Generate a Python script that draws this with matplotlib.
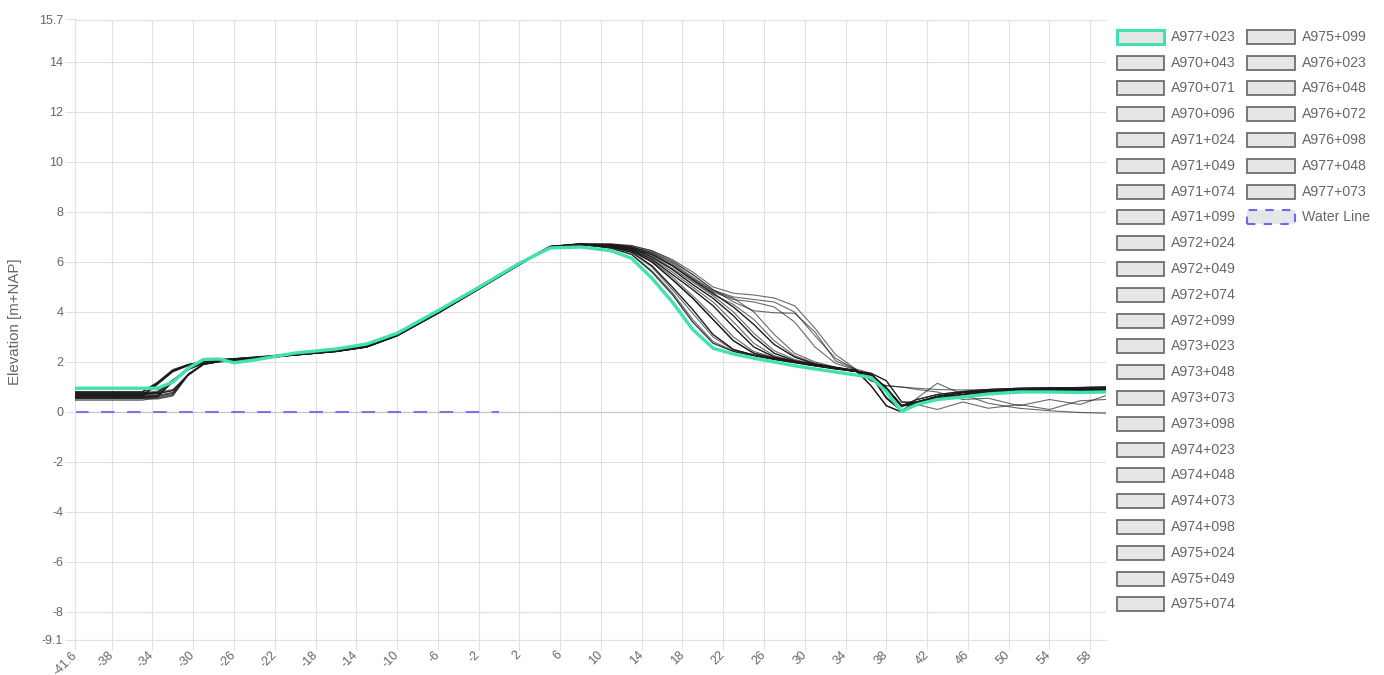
import matplotlib
matplotlib.use("Agg")
import matplotlib.pyplot as plt
from matplotlib.patches import Rectangle

# Cross-shore distance [m] shared by all profile surveys
STATION = [-41.6, -35, -33.5, -32, -30.5, -29, -27.5, -26, -24,
           -20, -16, -13, -10, -6, -2, 2, 5, 8,
           11, 13, 15, 17, 19, 21, 23, 25, 27, 29, 31, 33, 35,
           36.5, 38, 39.5,
           41, 43, 45.5, 48, 51, 54, 57, 59.5]

# Elevation [m+NAP] per transect
A977_023 = [0.95, 0.95, 0.95, 1.2, 1.75, 2.1, 2.12, 1.97, 2.08,
            2.36, 2.52, 2.72, 3.15, 4.05, 4.98, 5.95, 6.56, 6.6,
            6.45, 6.15, 5.35, 4.4, 3.3, 2.55, 2.32, 2.15, 2.0, 1.85, 1.72, 1.6, 1.48,
            1.38, 0.82, 0.02,
            0.3, 0.5, 0.6, 0.72, 0.8, 0.8, 0.78, 0.8]
A970_043 = [0.55, 0.55, 0.55, 0.67, 1.5, 1.92, 2.02, 2.05, 2.12,
            2.3, 2.45, 2.62, 3.08, 3.98, 4.95, 5.92, 6.6, 6.7,
            6.55, 6.3, 5.6, 4.7, 3.6, 2.75, 2.42, 2.25, 2.1, 1.97, 1.84, 1.72, 1.62,
            1.5, 0.95, 0.25,
            0.35, 0.55, 0.7, 0.8, 0.85, 0.88, 0.9, 0.9]
A970_071 = [0.6, 0.6, 0.68, 1.25, 1.72, 1.97, 2.05, 2.08, 2.15,
            2.33, 2.48, 2.66, 3.12, 4.02, 5.0, 5.95, 6.58, 6.68,
            6.6, 6.4, 5.85, 5.0, 4.1, 3.1, 2.5, 2.28, 2.12, 2.0, 1.86, 1.74, 1.63,
            1.45, 0.55, 0.05,
            0.4, 0.62, 0.78, 0.85, 0.9, 0.92, 0.93, 0.95]
A970_096 = [0.65, 0.65, 1.15, 1.65, 1.88, 2.0, 2.08, 2.12, 2.18,
            2.28, 2.42, 2.6, 3.05, 3.95, 4.92, 5.9, 6.62, 6.72,
            6.62, 6.45, 6.0, 5.3, 4.55, 3.7, 2.85, 2.35, 2.15, 2.0, 1.87, 1.75, 1.62,
            1.5, 0.95, 0.25,
            0.3, 0.5, 0.62, 0.72, 0.78, 0.82, 0.84, 0.85]
A971_024 = [0.7, 0.7, 0.78, 1.22, 1.7, 1.96, 2.04, 2.09, 2.14,
            2.31, 2.46, 2.63, 3.09, 3.99, 4.96, 5.93, 6.61, 6.71,
            6.65, 6.5, 6.1, 5.5, 4.9, 4.25, 3.4, 2.6, 2.2, 2.02, 1.88, 1.76, 1.64,
            1.52, 0.9, 0.2,
            0.38, 0.56, 0.72, 0.8, 0.86, 0.88, 0.89, 0.9]
A971_049 = [0.75, 0.75, 0.75, 0.86, 1.48, 1.9, 2.0, 2.04, 2.1,
            2.27, 2.41, 2.59, 3.04, 3.94, 4.9, 5.88, 6.6, 6.7,
            6.65, 6.55, 6.2, 5.7, 5.1, 4.55, 3.85, 3.0, 2.35, 2.05, 1.9, 1.77, 1.65,
            1.05, 0.25, 0.0,
            0.3, 0.1, 0.4, 0.15, 0.3, 0.1, 0.45, 0.5]
A971_074 = [0.8, 0.8, 1.18, 1.68, 1.9, 2.02, 2.1, 2.14, 2.2,
            2.34, 2.49, 2.67, 3.13, 4.03, 5.01, 5.96, 6.63, 6.74,
            6.72, 6.65, 6.45, 6.1, 5.6, 5.0, 4.75, 4.68, 4.56, 4.25, 3.35, 2.3, 1.72,
            1.55, 1.25, 0.4,
            0.42, 0.64, 0.79, 0.86, 0.9, 0.93, 0.94, 0.96]
A971_099 = [0.58, 0.58, 0.66, 1.24, 1.71, 1.96, 2.05, 2.08, 2.16,
            2.3, 2.45, 2.62, 3.08, 3.98, 4.95, 5.92, 6.6, 6.7,
            6.68, 6.55, 6.3, 5.85, 5.3, 4.75, 4.2, 3.5, 2.7, 2.2, 1.92, 1.78, 1.65,
            1.5, 0.95, 0.25,
            0.5, 0.7, 0.82, 0.9, 0.95, 0.97, 0.98, 1.0]
A972_024 = [0.62, 0.62, 0.62, 0.74, 1.52, 1.93, 2.03, 2.06, 2.13,
            2.32, 2.47, 2.65, 3.11, 4.01, 4.98, 5.94, 6.6, 6.69,
            6.58, 6.38, 5.8, 4.9, 3.95, 3.0, 2.48, 2.27, 2.11, 1.99, 1.85, 1.73, 1.62,
            1.45, 0.6, 0.08,
            0.35, 0.55, 0.7, 0.8, 0.85, 0.88, 0.9, 0.9]
A972_049 = [0.68, 0.68, 1.12, 1.62, 1.86, 1.99, 2.07, 2.11, 2.17,
            2.3, 2.44, 2.61, 3.07, 3.97, 4.94, 5.91, 6.6, 6.71,
            6.63, 6.47, 6.05, 5.4, 4.65, 3.85, 3.0, 2.42, 2.18, 2.02, 1.88, 1.76, 1.63,
            1.5, 0.95, 0.25,
            0.4, 0.62, 0.78, 0.85, 0.9, 0.92, 0.93, 0.95]
A972_074 = [0.72, 0.72, 0.8, 1.27, 1.73, 1.98, 2.06, 2.09, 2.15,
            2.3, 2.45, 2.62, 3.08, 3.98, 4.95, 5.92, 6.6, 6.7,
            6.66, 6.52, 6.15, 5.6, 5.0, 4.4, 3.6, 2.75, 2.25, 2.04, 1.9, 1.78, 1.68,
            1.25, 1.05, 1.0,
            0.9, 0.8, 0.5, 0.55, 0.25, 0.5, 0.3, 0.65]
A972_099 = [0.78, 0.78, 0.78, 0.9, 1.47, 1.9, 2.01, 2.04, 2.11,
            2.28, 2.42, 2.6, 3.05, 3.95, 4.92, 5.9, 6.62, 6.72,
            6.56, 6.32, 5.65, 4.78, 3.7, 2.82, 2.44, 2.26, 2.11, 1.98, 1.85, 1.73, 1.63,
            1.52, 0.98, 0.28,
            0.3, 0.5, 0.62, 0.72, 0.78, 0.82, 0.84, 0.85]
A973_023 = [0.82, 0.82, 1.2, 1.7, 1.9, 2.02, 2.09, 2.13, 2.19,
            2.33, 2.48, 2.66, 3.12, 4.02, 5.0, 5.95, 6.58, 6.68,
            6.7, 6.6, 6.4, 6.0, 5.5, 4.9, 4.4, 4.05, 3.97, 3.95, 3.2, 2.05, 1.7,
            1.05, 0.25, 0.0,
            0.35, 0.55, 0.7, 0.8, 0.85, 0.88, 0.9, 0.9]
A973_048 = [0.56, 0.56, 0.64, 1.2, 1.69, 1.95, 2.04, 2.07, 2.14,
            2.3, 2.45, 2.62, 3.08, 3.98, 4.95, 5.92, 6.6, 6.7,
            6.66, 6.56, 6.25, 5.75, 5.2, 4.65, 4.0, 3.15, 2.45, 2.1, 1.91, 1.77, 1.65,
            1.5, 0.95, 0.25,
            0.5, 0.7, 0.82, 0.9, 0.95, 0.97, 0.98, 1.0]
A973_073 = [0.64, 0.64, 0.64, 0.76, 1.5, 1.91, 2.02, 2.05, 2.12,
            2.28, 2.42, 2.6, 3.05, 3.95, 4.92, 5.9, 6.62, 6.72,
            6.62, 6.45, 6.0, 5.3, 4.55, 3.7, 2.85, 2.35, 2.15, 2.0, 1.87, 1.75, 1.62,
            1.45, 0.55, 0.05,
            0.4, 0.62, 0.78, 0.85, 0.9, 0.92, 0.93, 0.95]
A973_098 = [0.7, 0.7, 1.14, 1.64, 1.87, 2.0, 2.08, 2.12, 2.18,
            2.3, 2.45, 2.62, 3.08, 3.98, 4.95, 5.92, 6.6, 6.7,
            6.6, 6.4, 5.85, 5.0, 4.1, 3.1, 2.5, 2.28, 2.12, 2.0, 1.86, 1.74, 1.63,
            1.5, 0.95, 0.25,
            0.35, 0.55, 0.7, 0.8, 0.85, 0.88, 0.9, 0.9]
A974_023 = [0.76, 0.76, 0.84, 1.28, 1.74, 1.98, 2.06, 2.1, 2.16,
            2.33, 2.48, 2.66, 3.12, 4.02, 5.0, 5.95, 6.58, 6.68,
            6.65, 6.5, 6.1, 5.5, 4.9, 4.25, 3.4, 2.6, 2.2, 2.02, 1.88, 1.76, 1.64,
            1.55, 1.25, 0.4,
            0.3, 0.5, 0.62, 0.72, 0.78, 0.82, 0.84, 0.85]
A974_048 = [0.52, 0.52, 0.52, 0.64, 1.46, 1.9, 2.01, 2.05, 2.12,
            2.3, 2.45, 2.62, 3.08, 3.98, 4.95, 5.92, 6.6, 6.7,
            6.7, 6.6, 6.35, 5.9, 5.35, 4.85, 4.55, 4.0, 3.1, 2.35, 2.0, 1.8, 1.66,
            1.05, 0.25, 0.0,
            0.55, 1.15, 0.7, 0.35, 0.15, 0.05, -0.02, -0.05]
A974_073 = [0.6, 0.6, 1.1, 1.6, 1.85, 1.98, 2.06, 2.1, 2.16,
            2.28, 2.42, 2.6, 3.05, 3.95, 4.92, 5.9, 6.62, 6.72,
            6.55, 6.3, 5.6, 4.7, 3.6, 2.75, 2.42, 2.25, 2.1, 1.97, 1.84, 1.72, 1.62,
            1.5, 0.95, 0.25,
            0.4, 0.62, 0.78, 0.85, 0.9, 0.92, 0.93, 0.95]
A974_098 = [0.66, 0.66, 0.74, 1.26, 1.72, 1.97, 2.05, 2.08, 2.15,
            2.3, 2.45, 2.62, 3.08, 3.98, 4.95, 5.92, 6.6, 6.7,
            6.68, 6.55, 6.3, 5.85, 5.3, 4.75, 4.2, 3.5, 2.7, 2.2, 1.92, 1.78, 1.65,
            1.45, 0.55, 0.05,
            0.35, 0.55, 0.7, 0.8, 0.85, 0.88, 0.9, 0.9]
A975_024 = [0.74, 0.74, 0.74, 0.86, 1.5, 1.92, 2.02, 2.05, 2.12,
            2.33, 2.48, 2.66, 3.12, 4.02, 5.0, 5.95, 6.58, 6.68,
            6.62, 6.45, 6.0, 5.3, 4.55, 3.7, 2.85, 2.35, 2.15, 2.0, 1.87, 1.75, 1.62,
            1.5, 0.95, 0.25,
            0.5, 0.7, 0.82, 0.9, 0.95, 0.97, 0.98, 1.0]
A975_049 = [0.8, 0.8, 1.16, 1.66, 1.89, 2.01, 2.09, 2.13, 2.19,
            2.3, 2.45, 2.62, 3.08, 3.98, 4.95, 5.92, 6.6, 6.7,
            6.65, 6.55, 6.2, 5.7, 5.1, 4.55, 3.85, 3.0, 2.35, 2.05, 1.9, 1.77, 1.65,
            1.5, 0.95, 0.25,
            0.4, 0.62, 0.78, 0.85, 0.9, 0.92, 0.93, 0.95]
A975_074 = [0.47, 0.47, 0.58, 1.22, 1.7, 1.96, 2.04, 2.07, 2.14,
            2.28, 2.42, 2.6, 3.05, 3.95, 4.92, 5.9, 6.62, 6.72,
            6.65, 6.5, 6.1, 5.5, 4.9, 4.25, 3.4, 2.6, 2.2, 2.02, 1.88, 1.76, 1.64,
            1.45, 0.55, 0.05,
            0.3, 0.5, 0.62, 0.72, 0.78, 0.82, 0.84, 0.85]
A975_099 = [0.58, 0.58, 0.58, 0.7, 1.5, 1.92, 2.02, 2.05, 2.12,
            2.3, 2.45, 2.62, 3.08, 3.98, 4.95, 5.92, 6.6, 6.7,
            6.6, 6.4, 5.85, 5.0, 4.1, 3.1, 2.5, 2.28, 2.12, 2.0, 1.86, 1.74, 1.63,
            1.5, 0.95, 0.25,
            0.35, 0.55, 0.7, 0.8, 0.85, 0.88, 0.9, 0.9]
A976_023 = [0.63, 0.63, 1.13, 1.63, 1.87, 1.99, 2.07, 2.11, 2.17,
            2.28, 2.42, 2.6, 3.05, 3.95, 4.92, 5.9, 6.62, 6.72,
            6.7, 6.6, 6.38, 5.95, 5.4, 4.8, 4.5, 4.4, 4.2, 3.6, 2.6, 1.95, 1.68,
            1.25, 1.05, 1.0,
            0.95, 0.9, 0.88, 0.9, 0.95, 0.97, 0.98, 1.0]
A976_048 = [0.69, 0.69, 0.77, 1.27, 1.73, 1.98, 2.06, 2.09, 2.15,
            2.33, 2.48, 2.66, 3.12, 4.02, 5.0, 5.95, 6.58, 6.68,
            6.68, 6.55, 6.3, 5.85, 5.3, 4.75, 4.2, 3.5, 2.7, 2.2, 1.92, 1.78, 1.65,
            1.5, 0.95, 0.25,
            0.4, 0.62, 0.78, 0.85, 0.9, 0.92, 0.93, 0.95]
A976_072 = [0.73, 0.73, 0.73, 0.85, 1.49, 1.91, 2.02, 2.05, 2.12,
            2.3, 2.45, 2.62, 3.08, 3.98, 4.95, 5.92, 6.6, 6.7,
            6.62, 6.45, 6.0, 5.3, 4.55, 3.7, 2.85, 2.35, 2.15, 2.0, 1.87, 1.75, 1.62,
            1.55, 1.25, 0.4,
            0.35, 0.55, 0.7, 0.8, 0.85, 0.88, 0.9, 0.9]
A976_098 = [0.77, 0.77, 1.17, 1.67, 1.89, 2.01, 2.09, 2.13, 2.19,
            2.28, 2.42, 2.6, 3.05, 3.95, 4.92, 5.9, 6.62, 6.72,
            6.72, 6.66, 6.45, 6.05, 5.5, 4.88, 4.6, 4.5, 4.4, 4.0, 3.05, 2.15, 1.7,
            1.05, 0.25, 0.0,
            0.3, 0.5, 0.62, 0.72, 0.78, 0.82, 0.84, 0.85]
A977_048 = [0.54, 0.54, 0.62, 1.23, 1.71, 1.96, 2.05, 2.08, 2.15,
            2.3, 2.45, 2.62, 3.08, 3.98, 4.95, 5.92, 6.6, 6.7,
            6.65, 6.55, 6.2, 5.7, 5.1, 4.55, 3.85, 3.0, 2.35, 2.05, 1.9, 1.77, 1.65,
            1.5, 0.95, 0.25,
            0.4, 0.62, 0.78, 0.85, 0.9, 0.92, 0.93, 0.95]
A977_073 = [0.67, 0.67, 0.67, 0.79, 1.5, 1.92, 2.02, 2.05, 2.12,
            2.33, 2.48, 2.66, 3.12, 4.02, 5.0, 5.95, 6.58, 6.68,
            6.7, 6.6, 6.32, 5.85, 5.25, 4.7, 4.3, 3.7, 2.85, 2.25, 1.95, 1.79, 1.66,
            1.5, 0.95, 0.25,
            0.35, 0.55, 0.7, 0.8, 0.85, 0.88, 0.9, 0.9]

HIGHLIGHT_NAME = "A977+023"
PROFILE_NAMES = ["A970+043", "A970+071", "A970+096", "A971+024", "A971+049",
                 "A971+074", "A971+099", "A972+024", "A972+049", "A972+074",
                 "A972+099", "A973+023", "A973+048", "A973+073", "A973+098",
                 "A974+023", "A974+048", "A974+073", "A974+098", "A975+024",
                 "A975+049", "A975+074", "A975+099", "A976+023", "A976+048",
                 "A976+072", "A976+098", "A977+048", "A977+073"]
PROFILE_ELEV = [A970_043, A970_071, A970_096, A971_024, A971_049,
                A971_074, A971_099, A972_024, A972_049, A972_074,
                A972_099, A973_023, A973_048, A973_073, A973_098,
                A974_023, A974_048, A974_073, A974_098, A975_024,
                A975_049, A975_074, A975_099, A976_023, A976_048,
                A976_072, A976_098, A977_048, A977_073]

WATER_NAME = "Water Line"
WATER_X = [-41.6, 0.0]
WATER_Y = [0.0, 0.0]

X_MIN, X_MAX = -41.6, 59.5
Y_MIN, Y_MAX = -9.1, 15.7
X_TICKS = [-41.6, -38, -34, -30, -26, -22, -18, -14, -10, -6, -2, 2, 6, 10,
           14, 18, 22, 26, 30, 34, 38, 42, 46, 50, 54, 58]
Y_TICKS = [-9.1, -8, -6, -4, -2, 0, 2, 4, 6, 8, 10, 12, 14, 15.7]

# ---- styling ----
TEAL = "#3fe3b2"
WATER_BLUE = "#6a6af0"
GRID = "#e0e0e0"
TEXT = "#666666"
FONT = ["Liberation Sans", "DejaVu Sans"]
plt.rcParams["font.family"] = FONT

W, H = 1384, 675
fig = plt.figure(figsize=(W / 100, H / 100), dpi=100)
ax = fig.add_axes([75 / W, (H - 639.5) / H, 1030.5 / W, 620 / H])

# water line at the bottom, then the profiles, highlighted transect on top
ax.plot(WATER_X, WATER_Y, color=WATER_BLUE, lw=1.5, alpha=0.9,
        linestyle=(0, (6.5, 6.0)), zorder=2)
for elev in PROFILE_ELEV:
    ax.plot(STATION, elev, color="#1a1a1a", lw=0.8, alpha=0.65, zorder=3)
ax.plot(STATION, A977_023, color=TEAL, lw=2.4, zorder=4,
        solid_joinstyle="round")

ax.set_xlim(X_MIN, X_MAX)
ax.set_ylim(Y_MIN, Y_MAX)
ax.set_xticks(X_TICKS)
ax.set_xticklabels([f"{t:g}" for t in X_TICKS], rotation=45, ha="right",
                   va="center", rotation_mode="anchor")
ax.set_yticks(Y_TICKS)
ax.set_yticklabels([f"{t:g}" for t in Y_TICKS])
ax.grid(True, color=GRID, lw=0.8, zorder=0)
ax.axhline(0, color="#c4c4c4", lw=0.8, zorder=1)
ax.tick_params(axis="both", colors=GRID, labelcolor=TEXT, labelsize=9,
               length=7, width=0.8)
ax.tick_params(axis="y", pad=1.5)
ax.tick_params(axis="x", pad=3)
for side in ("left", "bottom", "top"):
    ax.spines[side].set_color(GRID)
    ax.spines[side].set_linewidth(0.8)
ax.spines["right"].set_visible(False)
ax.set_axisbelow(True)

fig.text(15 / W, 1 - 322 / H, "Elevation [m+NAP]", rotation=90,
         ha="center", va="center", fontsize=10.8, color=TEXT)

# ---- legend in two columns ----
entries = [(HIGHLIGHT_NAME, "teal")] + [(n, "grey") for n in PROFILE_NAMES] \
    + [(WATER_NAME, "water")]
rows_first_col = 23
row0, row_step = 36.8, 25.8
col_box_x = [1116.5, 1247.0]
box_w, box_h = 47.5, 14.0
for i, (name, kind) in enumerate(entries):
    col = 0 if i < rows_first_col else 1
    row = i if col == 0 else i - rows_first_col
    yc = row0 + row * row_step
    bx = col_box_x[col]
    if kind == "teal":
        ec, lw, ls = TEAL, 2.2, "solid"
    elif kind == "water":
        ec, lw, ls = WATER_BLUE, 1.5, (0, (4, 4))
    else:
        ec, lw, ls = "#6e6e6e", 1.3, "solid"
    fig.add_artist(Rectangle((bx / W, 1 - (yc + box_h / 2) / H),
                             box_w / W, box_h / H,
                             transform=fig.transFigure, facecolor="#e6e6e6",
                             edgecolor=ec, lw=lw, linestyle=ls))
    fig.text((bx + box_w + 7) / W, 1 - yc / H, name, ha="left", va="center",
             fontsize=10.2, color=TEXT)

fig.savefig("out.png", dpi=100)
